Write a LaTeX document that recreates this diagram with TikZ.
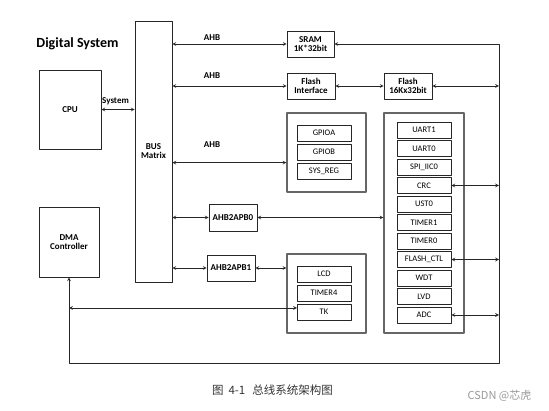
\documentclass[tikz,border=0pt]{standalone}
\usepackage{fontspec}
\setmainfont{Carlito}
\newfontfamily\cjk{Noto Sans CJK SC}
\begin{document}
\begin{tikzpicture}[x=1pt, y=-1pt, line join=round, >=stealth,
  font=\bfseries\fontsize{9}{9}\selectfont,
  blk/.style={draw=black!85, line width=0.7pt, align=center, inner sep=0pt},
  grp/.style={draw=black!60, line width=1.1pt, inner sep=0pt},
  reg/.style={draw=black!85, line width=0.7pt, inner sep=0pt, minimum width=54, minimum height=16, font=\mdseries\fontsize{8.5}{8.5}\selectfont},
  lnk/.style={<->, line width=0.7pt, black!85}]
\useasboundingbox (0,0) rectangle (549,411);
\node[font=\bfseries\fontsize{14}{14}\selectfont] (title) at (77.5,44) {Digital System};
% main blocks
\node[blk, minimum width=37, minimum height=261] (bus) at (153.5,151.5) {BUS\\Matrix};
\node[blk, minimum width=62, minimum height=79] (cpu) at (70,109.5) {CPU};
\node[blk, minimum width=60, minimum height=70] (dma) at (69,242) {DMA\\Controller};
\node[blk, minimum width=47, minimum height=26] (sram) at (310.5,44) {SRAM\\1K*32bit};
\node[blk, minimum width=48, minimum height=26] (flashif) at (311,86) {Flash\\Interface};
\node[blk, minimum width=48, minimum height=26] (flashmem) at (408,86) {Flash\\16Kx32bit};
\node[blk, minimum width=48, minimum height=27] (apb0) at (233,217.5) {AHB2APB0};
\node[blk, minimum width=48, minimum height=26] (apb1) at (231,268) {AHB2APB1};
% peripheral groups
\node[grp, minimum width=79, minimum height=79] (gpiogrp) at (326.5,152.5) {};
\node[grp, minimum width=80, minimum height=220] (apbgrp) at (424,223) {};
\node[grp, minimum width=79, minimum height=79] (lcdgrp) at (326.5,293.5) {};
\foreach \name/\txt [count=\i from 0] in {gpioa/GPIOA, gpiob/GPIOB, sysreg/SYS\_REG}
  \node[reg] (\name) at (324,133+19*\i) {\txt};
\foreach \name/\txt [count=\i from 0] in {uart1/UART1, uart0/UART0, spi/SPI\_IIC0, crc/CRC, ust/UST0, tmr1/TIMER1, tmr0/TIMER0, flashctl/FLASH\_CTL, wdt/WDT, lvd/LVD, adc/ADC}
  \node[reg] (\name) at (424,130+18.5*\i) {\txt};
\foreach \name/\txt [count=\i from 0] in {lcd/LCD, tmr4/TIMER4, tk/TK}
  \node[reg] (\name) at (324,274+19*\i) {\txt};
% bus labels
\node (ahba) at (212,38) {AHB};
\node (ahbb) at (212,76) {AHB};
\node (ahbc) at (212,145) {AHB};
\node (sys) at (115.5,101) {System};
\coordinate (ne) at (499,44);
\coordinate (se) at (499,363);
\coordinate (tkin) at (297,308);
% connectors
\draw[lnk] (cpu.east) -- (cpu.east -| bus.west);
\draw[lnk] (bus.east |- sram) -- (sram.west);
\draw[lnk] (bus.east |- flashif) -- (flashif.west);
\draw[lnk] (bus.east |- sysreg.north) -- (gpiogrp.west |- sysreg.north);
\draw[lnk] (bus.east |- apb0) -- (apb0.west);
\draw[lnk] (apb0.east) -- (apbgrp.west |- apb0);
\draw[lnk] (bus.east |- apb1) -- (apb1.west);
\draw[lnk] (apb1.east) -- (lcdgrp.west |- apb1);
\draw[lnk] (flashif) -- (flashmem);
\draw[lnk] (flashmem.east) -- (flashmem.east -| ne);
\foreach \n in {crc, flashctl, adc}
  \draw[lnk] (\n.east) -- (\n.east -| ne);
\draw[lnk] (sram.east) -- (ne) -- (se) -- (se -| dma) -- (dma.south);
\draw[lnk] (dma.south |- tkin) -- (tkin);
% caption
\node[font=\cjk\mdseries\fontsize{11.5}{11.5}\selectfont, text=black!80] (caption) at (272.5,390) {图\hspace{5pt}4-1\hspace{7pt}总线系统架构图};
\node[font=\cjk\mdseries\fontsize{11}{11}\selectfont, text=black!40] (mark) at (499.5,396) {CSDN @芯虎};
\end{tikzpicture}
\end{document}
